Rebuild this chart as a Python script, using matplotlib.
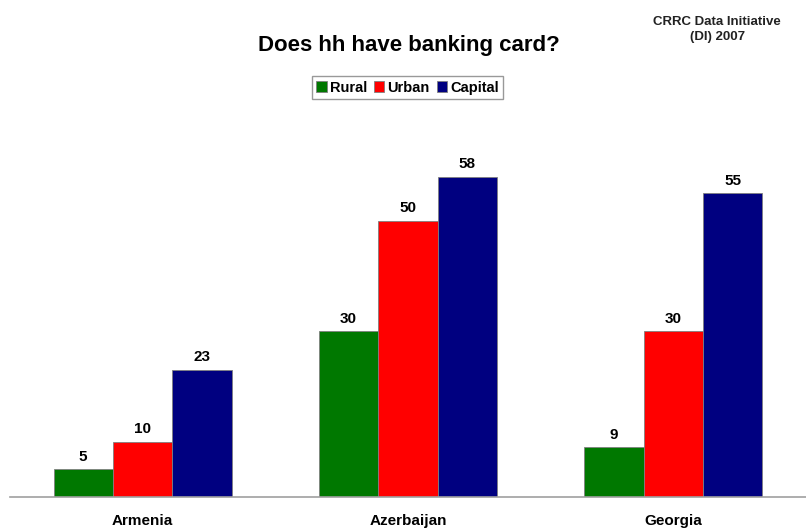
import matplotlib

matplotlib.use("Agg")
import matplotlib.pyplot as plt
import numpy as np
from matplotlib.patches import Patch

plt.rcParams["font.family"] = ["Liberation Sans", "DejaVu Sans"]
plt.rcParams["font.weight"] = "bold"

COUNTRIES = ["Armenia", "Azerbaijan", "Georgia"]
SETTLEMENTS = ["Rural", "Urban", "Capital"]
RURAL = [5, 30, 9]
URBAN = [10, 50, 30]
CAPITAL = [23, 58, 55]
COLORS = ["#007800", "#ff0000", "#000080"]


def main() -> None:
    fig = plt.figure(figsize=(8.06, 5.31), dpi=100)
    ax = fig.add_axes([0.0124, 0.064, 0.9876, 0.7277])

    x = np.arange(len(COUNTRIES))
    width = 0.224
    series = [RURAL, URBAN, CAPITAL]

    for offset, values, color, name in zip(
        (-1, 0, 1), series, COLORS, SETTLEMENTS
    ):
        bars = ax.bar(
            x + offset * width,
            values,
            width=width,
            color=color,
            edgecolor="#808080",
            linewidth=0.6,
            label=name,
        )
        for bar, value in zip(bars, values):
            ax.text(
                bar.get_x() + bar.get_width() / 2,
                value + 1.6,
                f"{value}",
                ha="center",
                va="baseline",
                fontsize=11,
                fontweight="bold",
            )

    ax.set_xlim(-0.5, 2.5)
    ax.set_ylim(0, 70)
    ax.set_yticks([])
    ax.set_xticks(x)
    ax.set_xticklabels(COUNTRIES, fontsize=11, fontweight="bold")
    ax.tick_params(axis="x", length=0, pad=12.5)

    for side in ("top", "right", "left"):
        ax.spines[side].set_visible(False)
    ax.spines["bottom"].set_color("#a0a0a0")
    ax.spines["bottom"].set_linewidth(1.2)

    fig.text(
        0.507,
        0.9045,
        "Does hh have banking card?",
        ha="center",
        va="baseline",
        fontsize=16,
        fontweight="bold",
    )
    fig.text(
        0.890,
        0.945,
        "CRRC Data Initiative\n(DI) 2007",
        ha="center",
        va="center",
        fontsize=9.5,
        fontweight="bold",
        color="#222222",
        linespacing=1.3,
    )

    handles = [
        Patch(facecolor=color, edgecolor="#808080", linewidth=0.6)
        for color in COLORS
    ]
    fig.legend(
        handles,
        SETTLEMENTS,
        loc="center",
        bbox_to_anchor=(0.5056, 0.835),
        ncol=3,
        fontsize=10.5,
        frameon=True,
        fancybox=False,
        edgecolor="#808080",
        handlelength=0.7,
        handleheight=0.7,
        handletextpad=0.2,
        columnspacing=0.5,
        borderpad=0.3,
        borderaxespad=0,
    )

    fig.savefig("out.png", dpi=100)
    plt.close(fig)


if __name__ == "__main__":
    main()
